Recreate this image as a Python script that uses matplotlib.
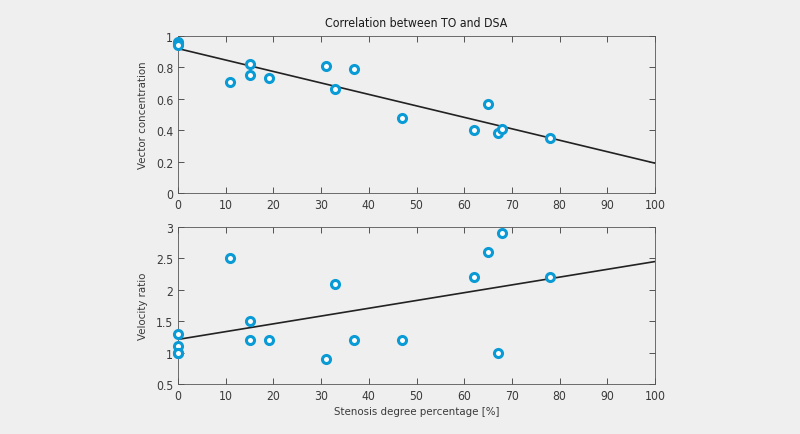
import numpy as np
import matplotlib
matplotlib.use("Agg")
import matplotlib.pyplot as plt

plt.rcParams['font.family'] = ['DejaVu Sans']
plt.rcParams['font.stretch'] = 'condensed'

# stenose in % (x), wspolne dla obu paneli
stenosis = [0, 0, 0, 0, 11, 15, 15, 19, 31, 33, 37, 47, 62, 65, 67, 68, 78]
vector_conc = [0.962, 0.955, 0.95, 0.945, 0.71, 0.82, 0.75, 0.73, 0.81, 0.66,
               0.79, 0.48, 0.40, 0.565, 0.38, 0.405, 0.35]
velocity_ratio = [1.3, 1.1, 1.0, 1.0, 2.5, 1.5, 1.2, 1.2, 0.9, 2.1,
                  1.2, 1.2, 2.2, 2.6, 1.0, 2.9, 2.2]

# linie trendu (wartosc w x=0 i x=100)
fit_x = [0, 100]
fit_vector = [0.92, 0.19]
fit_velocity = [1.21, 2.45]

bg = '#efefef'
blue = '#0a9bd7'
txt = '#3a3a3a'

fig = plt.figure(figsize=(8, 4.35), dpi=100, facecolor=bg)
ax1 = fig.add_axes([178/800, 1 - 194/435, 477/800, 157/435])
ax2 = fig.add_axes([178/800, 1 - 385/435, 477/800, 157/435])

for ax, y, fy in [(ax1, vector_conc, fit_vector), (ax2, velocity_ratio, fit_velocity)]:
    ax.set_facecolor(bg)
    ax.plot(fit_x, fy, color='#222222', lw=1.2, zorder=2)
    ax.plot(stenosis, y, 'o', ms=5.8, mfc='white', mec=blue, mew=2.2, zorder=3,
            clip_on=False)
    ax.set_xlim(0, 100)
    ax.set_xticks(np.arange(0, 101, 10))
    ax.tick_params(direction='in', top=True, right=True, length=4, width=0.6,
                   labelsize=8.7, colors=txt, pad=3.5)
    for s in ax.spines.values():
        s.set_linewidth(0.6)
        s.set_color('#555555')

ax1.set_ylim(0, 1)
ax1.set_yticks([0, 0.2, 0.4, 0.6, 0.8, 1])
ax1.set_yticklabels(['0', '0.2', '0.4', '0.6', '0.8', '1'])
ax1.set_ylabel('Vector concentration', fontsize=8.2, color=txt, labelpad=6)
ax1.set_title('Correlation between TO and DSA', fontsize=8.8, color='#1a1a1a', pad=7)

ax2.set_ylim(0.5, 3)
ax2.set_yticks([0.5, 1, 1.5, 2, 2.5, 3])
ax2.set_yticklabels(['0.5', '1', '1.5', '2', '2.5', '3'])
ax2.set_ylabel('Velocity ratio', fontsize=8.2, color=txt, labelpad=6)
ax2.set_xlabel('Stenosis degree percentage [%]', fontsize=8.2, color=txt, labelpad=3)

fig.savefig('out.png', dpi=100, facecolor=bg)
